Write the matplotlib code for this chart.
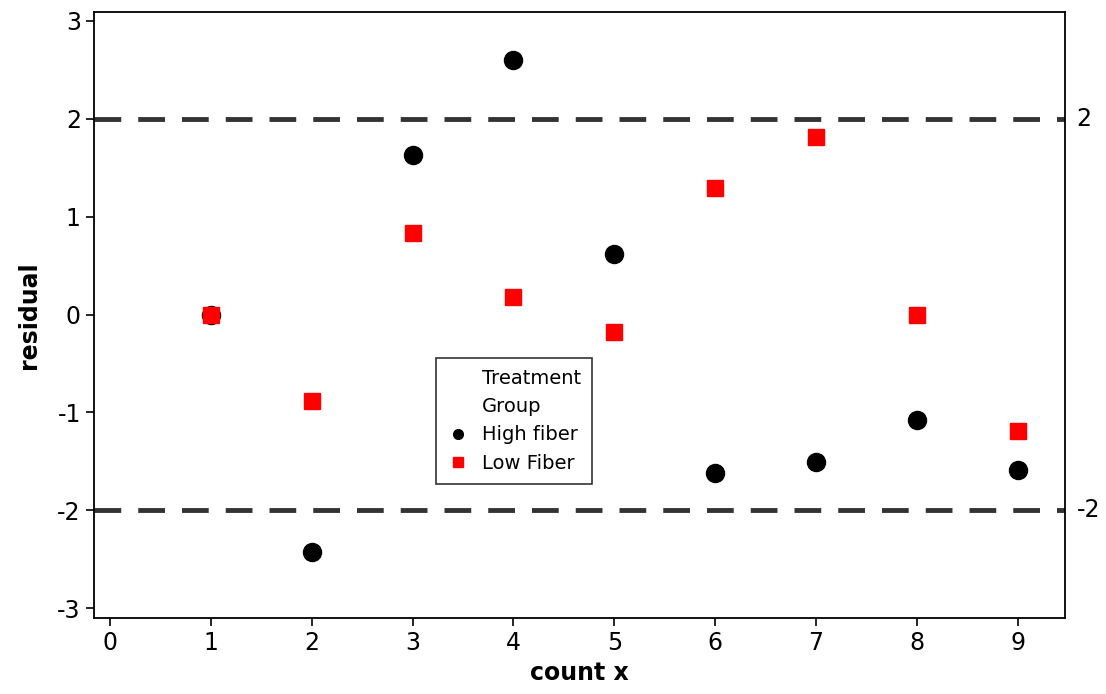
import matplotlib.pyplot as plt
from matplotlib.lines import Line2D

# residuals by count, two treatment groups
count_x = [1, 2, 3, 4, 5, 6, 7, 8, 9]
high_fiber = [0.0, -2.43, 1.63, 2.60, 0.62, -1.62, -1.51, -1.08, -1.59]
low_fiber = [0.0, -0.88, 0.83, 0.18, -0.18, 1.29, 1.81, 0.0, -1.19]
ref_levels = [2, -2]

plt.rcParams['font.family'] = ['DejaVu Sans']
plt.rcParams['axes.unicode_minus'] = False

fig = plt.figure(figsize=(11.06, 6.94), dpi=100)
ax = fig.add_axes([94 / 1106, 1 - 618 / 694, (1065 - 94) / 1106, (618 - 12) / 694])

for lvl in ref_levels:
    ax.axhline(lvl, color='#333333', linewidth=3.5, dashes=(5.5, 3.5), zorder=1)
    ax.text(1.012, lvl, str(lvl), transform=ax.get_yaxis_transform(),
            va='center', ha='left', fontsize=17)

ax.plot(count_x, high_fiber, 'o', color='black', markersize=13, linestyle='none', zorder=2)
ax.plot(count_x, low_fiber, 's', color='red', markersize=11.5, linestyle='none', zorder=3)

ax.set_xlim(-0.16, 9.47)
ax.set_ylim(-3.1, 3.09)
ax.set_xticks(range(0, 10))
ax.set_yticks(range(-3, 4))
ax.tick_params(labelsize=17, length=6, width=1.2, direction='out')
for s in ax.spines.values():
    s.set_linewidth(1.3)

ax.set_xlabel('count x', fontsize=17, fontweight='bold', labelpad=4)
ax.set_ylabel('residual', fontsize=17, fontweight='bold', labelpad=12)

handles = [
    Line2D([], [], linestyle='none'),
    Line2D([], [], marker='o', color='black', linestyle='none', markersize=7),
    Line2D([], [], marker='s', color='red', linestyle='none', markersize=7),
]
labels = ['Treatment\nGroup', 'High fiber', 'Low Fiber']
leg = ax.legend(handles, labels, loc='center', bbox_to_anchor=(514 / 1106, 1 - 421 / 694),
                bbox_transform=fig.transFigure, fontsize=14, frameon=True, fancybox=False,
                edgecolor='black', handlelength=1.1, handletextpad=0.7,
                borderpad=0.55, labelspacing=0.5)
leg.get_frame().set_linewidth(1.2)
for t in leg.get_texts():
    t.set_linespacing(1.6)

fig.savefig('out.png', dpi=100)
